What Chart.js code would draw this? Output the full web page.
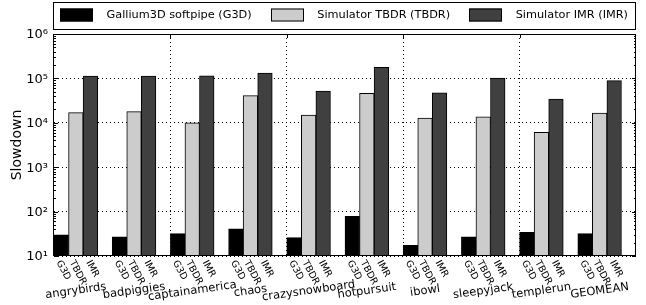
<!DOCTYPE html>
<html><head><meta charset="utf-8">
<script src="https://cdn.jsdelivr.net/npm/chart.js@4/dist/chart.umd.min.js"></script>
<style>html,body{margin:0;padding:0;background:#fff}#wrap{width:646px;height:305px;position:relative}</style>
</head><body><div id="wrap"><canvas id="c"></canvas></div>
<script>
const categories = ['angrybirds','badpiggies','captainamerica','chaos','crazysnowboard','hotpursuit','ibowl','sleepyjack','templerun','GEOMEAN'];
const seriesNames = ['Gallium3D softpipe (G3D)','Simulator TBDR (TBDR)','Simulator IMR (IMR)'];
const subLabels = ['G3D','TBDR','IMR'];
const g3d  = [30, 27, 32, 41, 26, 78, 17.5, 27, 34, 32];
const tbdr = [16900, 17800, 10000, 41000, 15000, 46000, 12800, 13700, 6100, 16600];
const imr  = [113000, 113000, 115000, 132000, 52000, 178000, 47600, 102000, 34400, 89000];
const yTicks = [10, 100, 1000, 10000, 100000, 1000000];
const yTickLabels = ['10¹','10²','10³','10⁴','10⁵','10⁶'];
const yTitle = 'Slowdown';

const FONT = 'DejaVu Sans';
Chart.defaults.font.family = FONT;
Chart.defaults.color = '#000';

const colors = ['#000000', '#cccccc', '#404040'];

const decor = {
  id: 'decor',
  afterDraw(chart) {
    const ctx = chart.ctx;
    const a = chart.chartArea;
    const xs = chart.scales.x, ys = chart.scales.y;
    ctx.save();
    // frame
    ctx.strokeStyle = '#000'; ctx.lineWidth = 1;
    ctx.strokeRect(a.left - 0.5, a.top + 0.5, a.right - a.left, a.bottom - a.top - 1);
    // y ticks (major + minor), inside, both sides
    ctx.beginPath();
    for (let e = 1; e <= 6; e++) {
      for (let k = 1; k <= 9; k++) {
        const v = k * Math.pow(10, e);
        if (v > 1e6) break;
        const y = Math.round(ys.getPixelForValue(v)) + 0.5;
        const len = k === 1 ? 4 : 2;
        ctx.moveTo(a.left, y); ctx.lineTo(a.left + len, y);
        ctx.moveTo(a.right, y); ctx.lineTo(a.right - len, y);
      }
    }
    // x ticks at grid positions
    const cw = xs.getPixelForTick(1) - xs.getPixelForTick(0);
    for (let i = 2; i < categories.length; i += 2) {
      const x = Math.round(xs.getPixelForTick(i) - cw / 2) + 0.5;
      ctx.moveTo(x, a.top); ctx.lineTo(x, a.top + 4);
      ctx.moveTo(x, a.bottom); ctx.lineTo(x, a.bottom - 4);
    }
    ctx.stroke();

    // sub labels
    ctx.fillStyle = '#000';
    const sfs = 9.5, sang = 62 * Math.PI / 180;
    ctx.font = sfs + 'px "' + FONT + '"';
    ctx.textAlign = 'center'; ctx.textBaseline = 'middle';
    for (let d = 0; d < 3; d++) {
      const meta = chart.getDatasetMeta(d);
      meta.data.forEach((bar) => {
        const t = subLabels[d];
        const w = ctx.measureText(t).width, h = sfs * 1.164;
        const bh = w * Math.sin(sang) + h * Math.cos(sang);
        const cy = a.bottom + 2.5 + bh / 2;
        ctx.save(); ctx.translate(bar.x + 2, cy); ctx.rotate(sang); ctx.fillText(t, 0, 0); ctx.restore();
      });
    }
    // category names
    const nfs = 11.5, nang = -8 * Math.PI / 180;
    ctx.font = nfs + 'px "' + FONT + '"';
    const m1 = chart.getDatasetMeta(1);
    categories.forEach((c, i) => {
      const x = m1.data[i].x;
      ctx.save(); ctx.translate(x, 291); ctx.rotate(nang); ctx.fillText(c, 0, 0); ctx.restore();
    });

    // legend (expand mode: columns spread across the box)
    const lx = a.left - 0.5, ly = 2.5, lw = a.right - a.left, lh = 27;
    ctx.fillStyle = '#fff'; ctx.fillRect(lx, ly, lw, lh);
    ctx.strokeStyle = '#000'; ctx.strokeRect(lx, ly, lw, lh);
    ctx.font = '11.3px "' + FONT + '"';
    ctx.textAlign = 'left';
    const hw = 33, pad = 13.5;
    const widths = [0, 1, 2].map(d => hw + pad + ctx.measureText(chart.data.datasets[d].label).width);
    const x0 = a.left + 6, x1 = a.right - 8;
    const sep = (x1 - x0 - widths.reduce((p, q) => p + q, 0)) / 2;
    let x = x0;
    const cyL = 15;
    for (let d = 0; d < 3; d++) {
      const ds = chart.data.datasets[d];
      const sx = Math.round(x);
      ctx.fillStyle = ds.backgroundColor;
      ctx.fillRect(sx, cyL - 6.5, hw, 13);
      ctx.strokeStyle = '#000';
      ctx.strokeRect(sx + 0.5, cyL - 6, hw - 1, 12);
      ctx.fillStyle = '#000';
      ctx.fillText(ds.label, x + hw + pad, cyL + 0.5);
      x += widths[d] + sep;
    }
    ctx.restore();
  }
};

new Chart(document.getElementById('c'), {
  type: 'bar',
  data: {
    labels: categories,
    datasets: [
      { label: seriesNames[0], data: g3d,  backgroundColor: colors[0], borderColor: '#000', borderWidth: 1 },
      { label: seriesNames[1], data: tbdr, backgroundColor: colors[1], borderColor: '#000', borderWidth: 1 },
      { label: seriesNames[2], data: imr,  backgroundColor: colors[2], borderColor: '#000', borderWidth: 1 },
      { label: '', data: categories.map(() => null) }
    ]
  },
  options: {
    responsive: true, maintainAspectRatio: false, animation: false,
    layout: { padding: { top: 34, right: 10, left: 0, bottom: 0 } },
    datasets: { bar: { categoryPercentage: 1, barPercentage: 1 } },
    plugins: { legend: { display: false }, tooltip: { enabled: false } },
    scales: {
      x: {
        offset: true,
        ticks: { display: false },
        grid: { offset: true, drawTicks: false, lineWidth: 1,
          color: c => (c.index > 0 && c.index % 2 === 0) ? '#000' : 'rgba(0,0,0,0)' },
        border: { display: false, dash: [1, 3] },
        afterFit: s => { s.height = 49; }
      },
      y: {
        type: 'logarithmic', min: 10, max: 1000000,
        afterBuildTicks: s => { s.ticks = yTicks.map(v => ({ value: v })); },
        afterFit: s => { s.width = 54; },
        ticks: { font: { size: 13 }, padding: 6, labelOffset: 1,
          callback: v => yTickLabels[yTicks.indexOf(v)] },
        grid: { drawTicks: false, color: '#000', lineWidth: 1 },
        border: { display: false, dash: [1, 3] },
        title: { display: true, text: yTitle, font: { size: 14 }, padding: { top: 9 } }
      }
    }
  },
  plugins: [decor]
});
</script>
</body></html>
